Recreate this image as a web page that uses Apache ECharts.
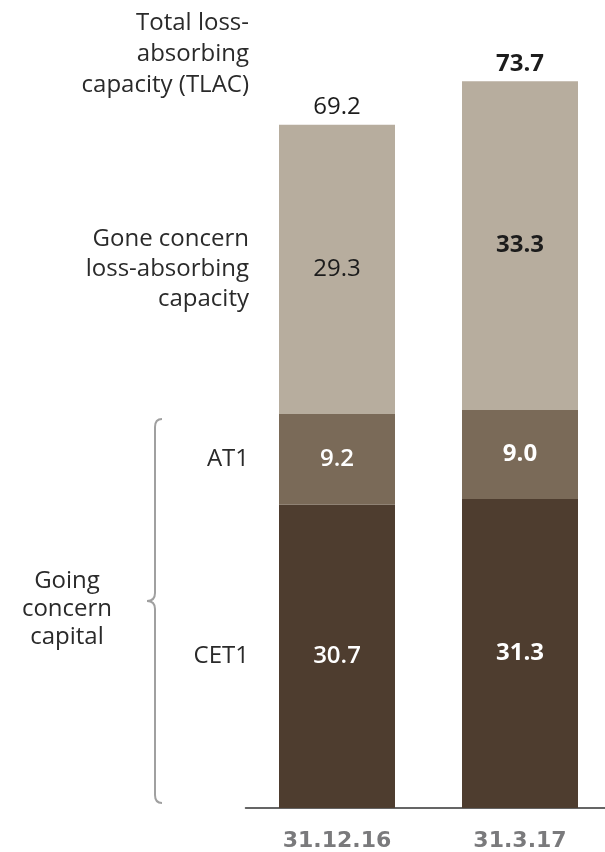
<!DOCTYPE html>
<html>
<head>
<meta charset="utf-8">
<script src="https://cdn.jsdelivr.net/npm/echarts@6/dist/echarts.min.js"></script>
<style>
html,body{margin:0;padding:0;background:#fff;overflow:hidden;}
#chart{width:612px;height:852px;}
</style>
</head>
<body>
<div id="chart"></div>
<script>
const categories = ['31.12.16', '31.3.17'];
const cet1 = [30.7, 31.3];
const at1 = [9.2, 9.0];
const goneConcern = [29.3, 33.3];
const totals = [69.2, 73.7];
const boldFlags = [false, true];

const colGone = '#b7ad9e';
const colAT1 = '#7a6a58';
const colCET1 = '#4e3d2f';
const FONT = 'Open Sans';

function items(vals, darkText) {
  return vals.map((v, i) => ({
    value: v,
    label: {
      show: true,
      position: 'inside',
      formatter: v.toFixed(1),
      color: darkText ? '#1c1c1c' : '#ffffff',
      fontFamily: FONT,
      fontSize: 24,
      fontWeight: boldFlags[i] ? 'bold' : (darkText ? 'normal' : 600)
    }
  }));
}

const chart = echarts.init(document.getElementById('chart'), null, {renderer: 'canvas'});
const option = {
  animation: false,
  grid: {left: 245.5, right: 0.5, top: 18, bottom: 44},
  xAxis: {
    type: 'category',
    data: categories,
    axisLine: {lineStyle: {color: '#333', width: 1.5}},
    axisTick: {show: false},
    axisLabel: {color: '#7a7a7c', fontFamily: 'DejaVu Sans', fontWeight: 'bold', fontSize: 22, margin: 22}
  },
  yAxis: {type: 'value', min: 0, max: 80, show: false, splitLine: {show: false}},
  series: [
    {type: 'bar', stack: 's', barWidth: 116, itemStyle: {color: colCET1}, data: items(cet1, false)},
    {type: 'bar', stack: 's', barWidth: 116, itemStyle: {color: colAT1}, data: items(at1, false)},
    {type: 'bar', stack: 's', barWidth: 116, itemStyle: {color: colGone}, data: items(goneConcern, true)},
    {type: 'bar', stack: 's', barWidth: 116, silent: true, itemStyle: {color: 'rgba(0,0,0,0)'},
      data: totals.map((t, i) => ({
        value: 0,
        label: {show: true, position: 'top', distance: 5, formatter: t.toFixed(1),
          color: '#1c1c1c', fontFamily: FONT, fontSize: 24, fontWeight: boldFlags[i] ? 'bold' : 'normal'}
      }))
    }
  ]
};
chart.setOption(option);

// annotation positions derived from the first bar's segments
const y = v => chart.convertToPixel({yAxisIndex: 0}, v);
const txtRight = 249;
const labStyle = {fontFamily: FONT, fontSize: 24, fill: '#2a2a2a', align: 'right', verticalAlign: 'middle', lineHeight: 30};
const braceTop = y(cet1[0] + at1[0]) + 5;
const braceBot = y(0) - 5;
const braceMid = (braceTop + braceBot) / 2 - 10;
const bx = 155;
const st = {stroke: '#a0a0a0', lineWidth: 2, fill: 'none'};
const graphics = [
  {type: 'text', x: txtRight, y: 54, style: Object.assign({}, labStyle, {text: 'Total loss-\nabsorbing\ncapacity (TLAC)', lineHeight: 31})},
  {type: 'text', x: txtRight, y: y(cet1[0] + at1[0] + goneConcern[0] / 2), style: Object.assign({}, labStyle, {text: 'Gone concern\nloss-absorbing\ncapacity'})},
  {type: 'text', x: txtRight, y: y(cet1[0] + at1[0] / 2), style: Object.assign({}, labStyle, {text: 'AT1'})},
  {type: 'text', x: txtRight, y: y(cet1[0] / 2), style: Object.assign({}, labStyle, {text: 'CET1'})},
  {type: 'text', x: 67, y: braceMid + 8, style: Object.assign({}, labStyle, {text: 'Going\nconcern\ncapital', align: 'center', lineHeight: 28})},
  {type: 'bezierCurve', shape: {x1: bx + 7, y1: braceTop, cpx1: bx, cpy1: braceTop, x2: bx, y2: braceTop + 8}, style: st},
  {type: 'line', shape: {x1: bx, y1: braceTop + 8, x2: bx, y2: braceMid - 8}, style: st},
  {type: 'bezierCurve', shape: {x1: bx, y1: braceMid - 8, cpx1: bx, cpy1: braceMid, x2: bx - 8, y2: braceMid}, style: st},
  {type: 'bezierCurve', shape: {x1: bx - 8, y1: braceMid, cpx1: bx, cpy1: braceMid, x2: bx, y2: braceMid + 8}, style: st},
  {type: 'line', shape: {x1: bx, y1: braceMid + 8, x2: bx, y2: braceBot - 8}, style: st},
  {type: 'bezierCurve', shape: {x1: bx, y1: braceBot - 8, cpx1: bx, cpy1: braceBot, x2: bx + 7, y2: braceBot}, style: st}
];
chart.setOption({graphic: graphics});
</script>
</body>
</html>
